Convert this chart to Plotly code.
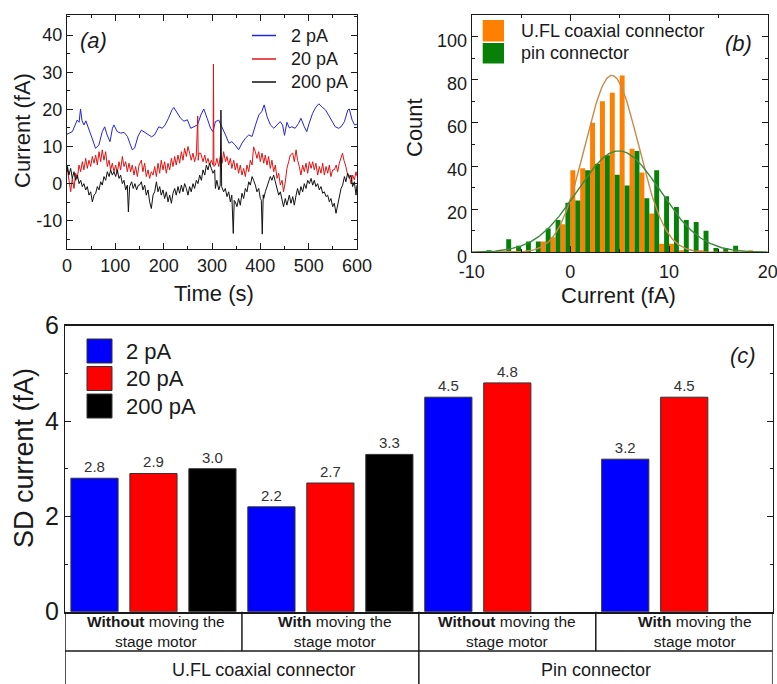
import numpy as np
import plotly.graph_objects as go

# ---------------- (a) current vs time ----------------
t_2pA = [0, 5, 11, 16, 21, 25, 28, 31, 35, 39, 45, 52, 59, 66, 73, 78, 83, 89, 94, 97, 104, 111, 118, 125,
         130, 135, 140, 147, 154, 161, 168, 175, 181, 190, 197, 203, 210, 217, 221, 228, 235, 242, 249, 256,
         263, 270, 277, 283, 290, 297, 302, 307, 314, 321, 328, 335, 341, 348, 355, 362, 369, 376, 383, 390,
         397, 403, 408, 414, 421, 428, 435, 441, 446, 450, 455, 460, 465, 472, 479, 484, 491, 496, 501, 508,
         515, 521, 528, 535, 541, 548, 555, 562, 567, 574, 581, 584, 590, 595, 600]
i_2pA = [13.3, 13.6, 14.0, 15.5, 17.1, 16.5, 20.1, 17.0, 15.8, 16.9, 14.9, 12.2, 9.5, 10.4, 14.0, 15.3, 13.1,
         11.3, 14.9, 15.8, 14.0, 13.6, 13.8, 12.7, 10.9, 9.1, 9.6, 12.8, 14.4, 13.8, 13.1, 12.6, 13.1, 15.3,
         14.9, 15.8, 17.6, 19.8, 20.5, 19.0, 17.6, 16.8, 17.2, 14.9, 15.3, 15.8, 18.5, 20.1, 17.6, 14.9, 14.0,
         16.7, 17.1, 15.3, 13.1, 10.9, 11.3, 10.4, 9.1, 10.9, 12.2, 13.1, 12.7, 15.8, 18.5, 19.4, 21.2, 18.0,
         15.8, 14.9, 15.8, 16.7, 15.8, 13.0, 16.5, 15.0, 15.3, 14.9, 16.2, 17.6, 15.3, 14.0, 16.2, 18.9, 20.6,
         21.5, 20.6, 19.8, 18.5, 16.7, 15.3, 14.9, 15.3, 16.7, 19.8, 20.1, 17.1, 15.8, 16.0]

t_20pA = [0, 4, 7.6, 11, 14.5, 18, 21.4, 24.8, 28.3, 31.7, 35, 38.6, 42, 45.5, 49, 52.4, 55.9, 59.3, 62.8,
          66.2, 69.7, 73, 76.5, 80, 83.4, 86.9, 90.3, 93.8, 97.2, 100.7, 104, 107.6, 111, 114.5, 118, 121.4,
          124.8, 128.3, 131.7, 135, 138.6, 142, 145.5, 149, 153.8, 157, 160.7, 164, 167.6, 171, 174.5, 178,
          181.4, 185, 188.3, 191.7, 195, 198.6, 202, 205.5, 209, 212.4, 216, 219.3, 222.8, 226, 229.7, 233,
          236.6, 240, 243.4, 247, 250.3, 253.8, 257, 260.7, 264, 267.6, 270.5, 271.5, 273, 276.6, 281.4, 285,
          288.3, 291.7, 295, 298.6, 302.2, 303, 304, 307, 310, 314, 317, 321, 324, 328, 331, 334.5, 338, 341,
          345, 348, 351.7, 355, 358.6, 362, 365.5, 369, 372.4, 376, 379.3, 383, 386, 389.7, 393, 396.6, 400,
          403.5, 407, 410.3, 413.8, 417, 420.7, 424, 427.6, 431, 434.5, 438, 441.4, 445, 448, 451.7, 455,
          458.6, 462, 467, 470.3, 474, 477, 480.7, 484, 487.6, 491, 494.5, 498, 501.4, 505, 508.3, 511.7,
          515, 518.6, 522, 525.5, 529, 532.4, 536, 539.3, 542.8, 546, 549.7, 553, 557, 560, 563.4, 567, 570,
          573, 577, 580.7, 584, 587.6, 591, 594.5, 598, 600]
i_20pA = [4.6, 0.5, -2.2, 1.4, -1.3, 2.8, 1.4, 5.0, 3.2, 5.9, 3.7, 6.8, 4.1, 6.3, 4.6, 7.3, 5.5, 7.7, 5.0,
          8.6, 5.9, 9.1, 6.3, 8.6, 4.6, 6.3, 3.7, 5.5, 3.2, 5.0, 2.8, 5.9, 3.7, 7.3, 4.6, 5.9, 3.2, 5.5, 3.2,
          5.0, 2.3, 4.6, 1.9, 5.0, 6.3, 3.2, 5.5, 1.9, 3.7, 1.4, 3.2, 2.3, 4.6, 1.9, 5.5, 2.8, 6.3, 3.7, 5.9,
          2.8, 5.5, 3.7, 6.8, 4.6, 7.3, 5.0, 7.7, 5.5, 8.6, 6.3, 9.5, 7.3, 10.0, 8.2, 6.3, 8.2, 5.9, 7.7,
          18.2, 6.3, 8.2, 8.2, 5.9, 7.7, 5.5, 6.8, 5.0, 6.3, 5.0, 32.2, 4.6, 5.0, 6.8, 4.6, 7.3, 5.5, 8.6,
          5.9, 7.3, 5.0, 6.8, 4.1, 6.3, 3.7, 5.5, 2.8, 5.0, 2.3, 4.1, 1.9, 5.0, 3.2, 6.3, 5.0, 9.9, 8.6, 6.8,
          8.6, 5.9, 8.2, 5.5, 7.7, 5.0, 7.3, 4.1, 6.3, 3.2, 5.0, 1.4, 2.8, -0.4, 0.9, -2.2, 0.5, 4.1, 5.9,
          7.7, 8.2, 5.9, 9.1, 6.3, 4.6, 2.3, 5.0, 3.2, 5.5, 2.8, 5.9, 4.1, 5.9, 3.7, 5.5, 2.3, 4.6, 2.8,
          5.5, 2.3, 4.6, 2.8, 5.0, 1.9, 3.7, 3.7, 5.0, 3.2, 5.5, 6.8, 8.2, 6.3, 4.6, 2.3, 2.3, 0.0, 2.3, 1.0,
          3.2, 2.0]

t_200pA = [0, 1, 4, 7.6, 11, 14.5, 18, 21.4, 25, 28.3, 31.7, 35, 38.6, 42, 45.5, 49, 52.4, 56, 59.3, 62.8,
           66.2, 69.7, 73, 76.5, 80, 83.4, 87, 90.3, 93.8, 97.2, 100.7, 104, 107.6, 111, 114.5, 118, 121.4,
           124.8, 127, 129.6, 133.8, 137, 140.6, 144, 147.6, 150, 153.8, 157, 160.7, 164, 167.6, 171, 174.5,
           178, 181.4, 185, 188.3, 191.7, 195, 198.6, 202, 205.5, 209, 212.4, 216, 219.3, 222.8, 226, 229.7,
           233, 236.6, 240, 243.4, 247, 250.3, 253.8, 257, 260.7, 264, 267.6, 271, 274.5, 278, 281.4, 285,
           288.3, 291.7, 295, 298.6, 302, 305.5, 307, 310, 314, 317, 318.5, 320, 324, 327.6, 331, 334.5, 338,
           341, 344, 346, 348, 351.7, 355, 358.6, 362, 365.5, 369, 372.4, 376, 379.3, 383, 386, 389.7, 393,
           396.6, 400, 402, 404, 406, 407, 410.3, 413.8, 417, 420.7, 424, 427.6, 431, 434.5, 438, 441.4,
           445, 448, 451.7, 455, 460, 463.4, 467, 470.3, 474, 477, 480.7, 484, 487.6, 491, 494.5, 498, 501.4,
           505, 508.3, 511.7, 515, 518.6, 522, 525.5, 529, 532.4, 536, 539.3, 542.8, 546, 549.7, 553, 556.6,
           560, 563.4, 567, 570.3, 574, 577, 580.7, 584, 587.6, 591, 594.5, 598, 600]
i_200pA = [3.2, 4.6, 2.3, 4.1, 1.4, 3.2, 0.9, 2.3, 0.0, 0.9, -0.8, 0.0, -1.7, -0.8, -3.1, -2.2, -4.9, -3.1,
           -2.6, -0.8, -1.7, 0.5, -0.4, 1.9, 0.9, 3.2, 1.9, 3.7, 2.3, 3.2, 1.9, 3.7, 1.4, 2.3, 0.0, 0.9,
           -1.7, -0.4, -7.6, -0.8, 0.5, -1.3, 0.0, -1.7, -0.4, -0.4, 0.5, -1.7, -0.4, -3.1, -1.7, -4.9, -6.7,
           -3.1, -2.2, 0.5, -2.2, -0.8, -3.1, -1.7, -4.0, -2.2, -4.9, -3.1, -5.3, -2.6, -1.3, -3.1, -0.8,
           -2.6, -0.4, -2.2, 0.0, -1.3, -3.1, -0.8, -2.2, 0.0, -1.3, 0.9, 0.0, 2.3, 0.9, 3.7, 2.3, 5.0, 3.7,
           5.5, 4.1, 2.8, 3.7, -1.3, 0.9, -1.7, -0.4, 19.8, -0.8, -2.2, -1.3, -3.5, -2.2, -4.9, -3.1, -13.4,
           -4.5, -4.9, -6.2, -4.0, -5.8, -2.6, -4.0, -1.3, -2.2, 0.5, -0.4, 1.9, 0.9, -0.4, -2.2, -1.3, -4.0,
           -4.5, -13.6, -3.0, -4.0, -2.2, -0.8, 0.5, 1.9, 0.9, 2.3, 0.5, -1.3, -3.1, -2.2, -4.9, -6.2, -4.0,
           -5.8, -3.1, -5.3, -3.5, -5.8, -3.1, -1.3, -3.1, -0.8, -2.2, 0.0, -1.3, 0.9, 0.0, 1.4, -0.4, 0.9,
           -0.8, 0.0, -1.7, -0.8, -2.6, -2.2, -3.5, -3.1, -4.9, -4.0, -6.2, -5.3, -8.0, -5.8, -3.1, -1.3,
           -0.4, 1.9, 0.5, 2.8, 1.4, 2.3, -0.8, 0.5, -3.1, -0.4]
ticks_a_y = [-10, 0, 10, 20, 30, 40]

# ---------------- (b) histograms of the current ----------------
ufl_bin_centers = [-2.75, -1.75, -0.75, 0.25, 1.25, 2.25, 3.25, 4.25, 5.25, 6.25, 7.25, 8.25, 9.25, 10.25,
                   11.25, 13.25, 18.25]
ufl_counts = [5, 7, 13, 38, 39, 60, 70, 74, 82, 48, 37, 18, 4, 4, 1, 1, 1]
pin_bin_centers = [-8.25, -6.25, -5.25, -4.25, -3.25, -2.25, -1.25, -0.25, 0.75, 1.75, 2.75, 3.75, 4.75,
                   5.75, 6.75, 7.75, 8.75, 9.75, 10.75, 11.75, 12.75, 13.75, 14.75, 15.75, 16.75]
pin_counts = [1, 6, 3, 5, 5, 11, 15, 23, 24, 38, 41, 45, 36, 31, 47, 25, 38, 26, 21, 15, 14, 10, 2, 2, 3]
# Gaussian fit parameters (amplitude, centre, sigma)
ufl_fit = (82.0, 4.2, 2.7)
pin_fit = (47.0, 4.9, 4.2)
ticks_b_x = [-10, 0, 10, 20]

# ---------------- (c) SD of the current ----------------
conditions = ["Without", "With", "Without", "With"]
connectors = ["U.FL coaxial connector", "Pin connector"]
ranges = ["2 pA", "20 pA", "200 pA"]
sd_2pA = [2.8, 2.2, 4.5, 3.2]
sd_20pA = [2.9, 2.7, 4.8, 4.5]
sd_200pA = [3.0, 3.3, None, None]

W, H = 777, 684
FONT = "Liberation Sans, Arial, sans-serif"
AX = "#1a1a1a"


def fx(p):
    return p / W


def fy(p):
    return 1 - p / H


fig = go.Figure()

line_cols = ["#2424d8", "#e01414", "#111111"]
for name, t, v, c in [("2 pA", t_2pA, i_2pA, line_cols[0]),
                      ("20 pA", t_20pA, i_20pA, line_cols[1]),
                      ("200 pA", t_200pA, i_200pA, line_cols[2])]:
    fig.add_trace(go.Scatter(x=t, y=v, mode="lines", name=name, line=dict(color=c, width=1),
                             xaxis="x", yaxis="y", showlegend=False))

ORANGE = "#ff8000"
GREEN = "#078007"
fig.add_trace(go.Bar(x=ufl_bin_centers, y=ufl_counts, width=0.5, name="U.FL coaxial connector",
                     marker=dict(color=ORANGE, line=dict(width=0)), xaxis="x2", yaxis="y2", showlegend=False))
fig.add_trace(go.Bar(x=pin_bin_centers, y=pin_counts, width=0.5, name="pin connector",
                     marker=dict(color=GREEN, line=dict(width=0)), xaxis="x2", yaxis="y2", showlegend=False))

xf = np.linspace(-10, 20, 401)
for (a, mu, s), col in [(ufl_fit, "#c98a4a"), (pin_fit, "#3d8a3d")]:
    fig.add_trace(go.Scatter(x=xf, y=a * np.exp(-(xf - mu) ** 2 / (2 * s ** 2)), mode="lines",
                             line=dict(color=col, width=1.4), xaxis="x2", yaxis="y2", showlegend=False))

bar_cols = ["#0000ff", "#ff0000", "#000000"]
for k, (name, vals) in enumerate(zip(ranges, [sd_2pA, sd_20pA, sd_200pA])):
    xs = [3 * g + k for g in range(len(conditions))]
    fig.add_trace(go.Bar(x=xs, y=vals, width=0.8, name=name,
                         marker=dict(color=bar_cols[k], line=dict(color="#333333", width=1)),
                         texttemplate="%{y:.1f}", textposition="outside", cliponaxis=False,
                         constraintext="none", textfont=dict(size=15, color="#333333", family=FONT),
                         xaxis="x3", yaxis="y3", showlegend=False))

common = dict(showline=True, linecolor=AX, linewidth=1.3, showgrid=False, zeroline=False, automargin=False,
              ticks="inside", ticklen=6, tickwidth=1.2, tickcolor=AX, mirror="allticks",
              ticklabeloverflow="allow")

fig.update_layout(
    template="none",
    width=W, height=H, margin=dict(l=0, r=0, t=0, b=0, pad=0), autosize=False,
    paper_bgcolor="white", plot_bgcolor="white", barmode="overlay",
    font=dict(family=FONT, color="#1a1a1a"),
    xaxis=dict(domain=[fx(67), fx(357)], range=[0, 600], anchor="y", dtick=100,
               minor=dict(ticks="inside", dtick=50, ticklen=3, tickcolor=AX),
               tickfont=dict(size=18), **common),
    yaxis=dict(domain=[fy(249), fy(15)], range=[-17.6, 45.4], anchor="x",
               tickvals=ticks_a_y, ticktext=[str(v) for v in ticks_a_y],
               minor=dict(ticks="inside", dtick=5, ticklen=3, tickcolor=AX),
               tickfont=dict(size=18), **common),
    xaxis2=dict(domain=[fx(471.7), fx(767.7)], range=[-10, 20], anchor="y2",
                tickvals=ticks_b_x, ticktext=[str(v) for v in ticks_b_x], ticklabelstandoff=3,
                minor=dict(ticks="inside", dtick=5, ticklen=3, tickcolor=AX),
                tickfont=dict(size=18), **common),
    yaxis2=dict(domain=[fy(252.3), fy(15)], range=[0, 110], anchor="x2", tickvals=[0, 20, 40, 60, 80, 100],
                minor=dict(ticks="inside", dtick=10, ticklen=3, tickcolor=AX), ticklabelshift=4,
                tickfont=dict(size=18), **common),
    xaxis3=dict(domain=[fx(65), fx(772.7)], range=[-0.5, 11.5], anchor="y3", showticklabels=False,
                showline=True, linecolor=AX, linewidth=2, mirror=True, ticks="", showgrid=False,
                zeroline=False, automargin=False),
    xaxis4=dict(overlaying="x3", side="top", anchor="y3", range=[-0.5, 11.5], showticklabels=False,
                tickvals=[i - 0.5 for i in range(13)], ticks="inside", ticklen=6, tickcolor=AX,
                showline=False, showgrid=False, zeroline=False, automargin=False),
    yaxis3=dict(domain=[fy(611.7), fy(325.7)], range=[0, 6], anchor="x3", dtick=2,
                minor=dict(ticks="inside", dtick=1, ticklen=3, tickcolor=AX),
                tickfont=dict(size=25), **common),
)

shapes = []
ann = []

# axis titles and panel tags
ann += [
    dict(x=fx(22), y=fy(131), text="Current (fA)", textangle=-90, font=dict(size=22)),
    dict(x=fx(214), y=fy(293), text="Time (s)", font=dict(size=22)),
    dict(x=fx(414), y=fy(128), text="Count", textangle=-90, font=dict(size=22)),
    dict(x=fx(618), y=fy(295), text="Current (fA)", font=dict(size=22)),
    dict(x=fx(24), y=fy(458), text="SD current (fA)", textangle=-90, font=dict(size=27)),
    dict(x=fx(93), y=fy(40), text="<i>(a)</i>", font=dict(size=22)),
    dict(x=fx(738), y=fy(43), text="<i>(b)</i>", font=dict(size=22)),
    dict(x=fx(743), y=fy(355), text="<i>(c)</i>", font=dict(size=22)),
]

# legend of (a)
for name, c, yc in zip(["2 pA", "20 pA", "200 pA"], line_cols, [35.5, 59, 82]):
    shapes.append(dict(type="line", xref="paper", yref="paper", x0=fx(252), x1=fx(276), y0=fy(yc), y1=fy(yc),
                       line=dict(color=c, width=1.5)))
    ann.append(dict(x=fx(289), y=fy(yc), text=name, xanchor="left", font=dict(size=18)))

# legend of (b)
for name, c, (y0, y1) in zip(["U.FL coaxial connector", "pin connector"], [ORANGE, GREEN],
                             [(20, 41.5), (43, 63.5)]):
    shapes.append(dict(type="rect", xref="paper", yref="paper", x0=fx(482.7), x1=fx(504), y0=fy(y1), y1=fy(y0),
                       fillcolor=c, line=dict(width=0)))
    ann.append(dict(x=fx(519), y=fy((y0 + y1) / 2), text=name, xanchor="left", font=dict(size=18)))

# legend of (c)
for name, c, (y0, y1) in zip(ranges, bar_cols, [(339, 363), (366.5, 390.5), (394, 418)]):
    shapes.append(dict(type="rect", xref="paper", yref="paper", x0=fx(87), x1=fx(112), y0=fy(y1), y1=fy(y0),
                       fillcolor=c, line=dict(color="#333333", width=1)))
    ann.append(dict(x=fx(124), y=fy((y0 + y1) / 2), text=name, xanchor="left", font=dict(size=22)))

# category table under (c)
row_mid, row_bot = fy(651), fy(684)
top = fy(611.7)
tl = dict(color=AX, width=1.5)
shapes.append(dict(type="line", xref="x3", yref="paper", x0=-0.5, x1=11.5, y0=row_mid, y1=row_mid, line=tl))
for xb, full in [(-0.5, True), (2.5, False), (5.5, True), (8.5, False), (11.5, True)]:
    shapes.append(dict(type="line", xref="x3", yref="paper", x0=xb, x1=xb, y0=top,
                       y1=row_bot if full else row_mid, line=tl))

for g, cond in enumerate(conditions):
    ann.append(dict(x=3 * g + 1, xref="x3", y=fy(631), yref="paper",
                    text=f"<b>{cond}</b> moving the<br>stage motor", font=dict(size=15.5),
                    xshift=[3, 5, 0, 11][g]))
for j, conn in enumerate(connectors):
    ann.append(dict(x=6 * j + 2.5, xref="x3", y=fy(670), yref="paper", text=conn, font=dict(size=18),
                    xshift=[22, 0][j]))

for a in ann:
    a.setdefault("xref", "paper")
    a.setdefault("yref", "paper")
    a.setdefault("xanchor", "center")
    a.setdefault("yanchor", "middle")
    a.setdefault("showarrow", False)
    a["font"] = dict(family=FONT, color="#1a1a1a", **a["font"])

fig.update_layout(shapes=shapes, annotations=ann)
fig.write_html("out.html")
